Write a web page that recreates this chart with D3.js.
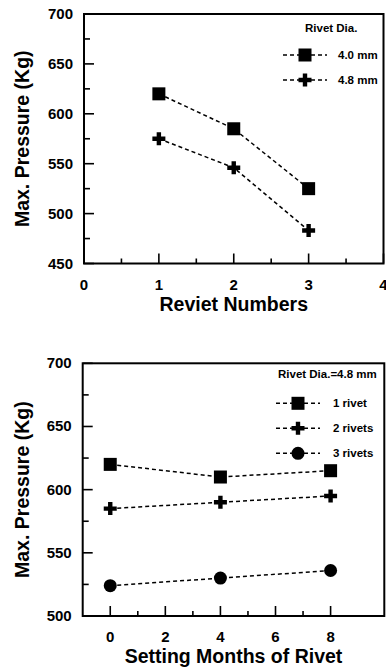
<!DOCTYPE html>
<html>
<head>
<meta charset="utf-8">
<script src="https://cdn.jsdelivr.net/npm/d3@7"></script>
<style>
  html, body { margin: 0; padding: 0; background: #fff; }
  svg { display: block; }
  text { font-family: "Liberation Sans", Arial, sans-serif; font-weight: bold; fill: #000; }
</style>
</head>
<body>
<svg id="chart" width="386" height="669"></svg>
<script>
// ---------- Data: chart 1 ----------
const rivetNumbers = [1, 2, 3];
const pressure40mm = [620, 585, 525];
const pressure48mm = [575, 546, 483];
const legend1Title = "Rivet Dia.";
const legend1Labels = ["4.0 mm", "4.8 mm"];
const xTicks1 = [0, 1, 2, 3, 4];
const yTicks1 = [450, 500, 550, 600, 650, 700];

// ---------- Data: chart 2 ----------
const settingMonths = [0, 4, 8];
const pressure1Rivet = [620, 610, 615];
const pressure2Rivets = [585, 590, 595];
const pressure3Rivets = [524, 530, 536];
const legend2Title = "Rivet Dia.=4.8 mm";
const legend2Labels = ["1 rivet", "2 rivets", "3 rivets"];
const xTicks2 = [0, 2, 4, 6, 8];
const yTicks2 = [500, 550, 600, 650, 700];

const svg = d3.select("#chart");

function markerPath(sel, type, size) {
  const h = size / 2;
  if (type === "square") {
    sel.append("rect").attr("x", -h).attr("y", -h).attr("width", size).attr("height", size).attr("fill", "#000");
  } else if (type === "plus") {
    const t = 2.2;
    sel.append("path")
      .attr("d", `M${-h},${-t}H${-t}V${-h}H${t}V${-t}H${h}V${t}H${t}V${h}H${-t}V${t}H${-h}Z`)
      .attr("fill", "#000");
  } else {
    sel.append("circle").attr("r", h).attr("fill", "#000");
  }
}

function drawChart(cfg) {
  const g = svg.append("g");
  const x = d3.scaleLinear().domain(cfg.xDomain).range([cfg.left, cfg.right]);
  const y = d3.scaleLinear().domain(cfg.yDomain).range([cfg.bottom, cfg.top]);

  // minor + major ticks (inward)
  const xMinor = cfg.xMinor, yMinor = cfg.yMinor;
  g.selectAll(".xminor").data(xMinor).join("line")
    .attr("x1", d => x(d)).attr("x2", d => x(d))
    .attr("y1", cfg.bottom).attr("y2", cfg.bottom - 5)
    .attr("stroke", "#000").attr("stroke-width", 1.6);
  g.selectAll(".xmajor").data(cfg.xTicks).join("line")
    .attr("x1", d => x(d)).attr("x2", d => x(d))
    .attr("y1", cfg.bottom).attr("y2", cfg.bottom - 10)
    .attr("stroke", "#000").attr("stroke-width", 1.6);
  g.selectAll(".yminor").data(yMinor).join("line")
    .attr("x1", cfg.left).attr("x2", cfg.left + 6)
    .attr("y1", d => y(d)).attr("y2", d => y(d))
    .attr("stroke", "#000").attr("stroke-width", 1.6);
  g.selectAll(".ymajor").data(cfg.yTicks).join("line")
    .attr("x1", cfg.left).attr("x2", cfg.left + 10)
    .attr("y1", d => y(d)).attr("y2", d => y(d))
    .attr("stroke", "#000").attr("stroke-width", 1.6);

  // frame
  g.append("rect")
    .attr("x", cfg.left).attr("y", cfg.top)
    .attr("width", cfg.right - cfg.left).attr("height", cfg.bottom - cfg.top)
    .attr("fill", "none").attr("stroke", "#000").attr("stroke-width", 2);

  // tick labels
  g.selectAll(".xlab").data(cfg.xTicks).join("text")
    .attr("x", d => x(d)).attr("y", cfg.bottom + 26)
    .attr("text-anchor", "middle").attr("font-size", 15).text(d => d);
  g.selectAll(".ylab").data(cfg.yTicks).join("text")
    .attr("x", cfg.left - 11).attr("y", d => y(d) + 5)
    .attr("text-anchor", "end").attr("font-size", 15).text(d => d);

  // axis titles
  g.append("text").attr("x", (cfg.left + cfg.right) / 2).attr("y", cfg.bottom + 47)
    .attr("text-anchor", "middle").attr("font-size", 19.5).text(cfg.xTitle);
  g.append("text")
    .attr("transform", `translate(29,${(cfg.top + cfg.bottom) / 2}) rotate(-90)`)
    .attr("text-anchor", "middle").attr("font-size", 19.5).text(cfg.yTitle);

  // series
  const line = d3.line().x(d => x(d[0])).y(d => y(d[1]));
  cfg.series.forEach(s => {
    const pts = cfg.xValues.map((xv, i) => [xv, s.values[i]]);
    g.append("path").attr("d", line(pts)).attr("fill", "none")
      .attr("stroke", "#000").attr("stroke-width", 1.5).attr("stroke-dasharray", "4,3");
    pts.forEach(p => {
      const m = g.append("g").attr("transform", `translate(${x(p[0])},${y(p[1])})`);
      markerPath(m, s.marker, 13);
    });
  });

  // legend
  g.append("text").attr("x", cfg.legend.titleX).attr("y", cfg.legend.titleY)
    .attr("text-anchor", "start").attr("font-size", 11.5).text(cfg.legend.title);
  cfg.series.forEach((s, i) => {
    const ly = cfg.legend.rowY0 + i * cfg.legend.rowStep;
    g.append("line").attr("x1", cfg.legend.lineX1).attr("x2", cfg.legend.lineX2)
      .attr("y1", ly).attr("y2", ly)
      .attr("stroke", "#000").attr("stroke-width", 1.5).attr("stroke-dasharray", "4,3");
    const m = g.append("g").attr("transform", `translate(${(cfg.legend.lineX1 + cfg.legend.lineX2) / 2},${ly})`);
    markerPath(m, s.marker, 13);
    g.append("text").attr("x", cfg.legend.textX).attr("y", ly + 4)
      .attr("font-size", 11.5).text(s.label);
  });
}

drawChart({
  left: 84, right: 383.5, top: 14, bottom: 263.5,
  xDomain: [0, 4], yDomain: [450, 700],
  xTicks: xTicks1, yTicks: yTicks1,
  xMinor: [0.5, 1.5, 2.5, 3.5], yMinor: [475, 525, 575, 625, 675],
  xTitle: "Reviet Numbers", yTitle: "Max. Pressure (Kg)",
  xValues: rivetNumbers,
  series: [
    { label: legend1Labels[0], values: pressure40mm, marker: "square" },
    { label: legend1Labels[1], values: pressure48mm, marker: "plus" }
  ],
  legend: { title: legend1Title, titleX: 305, titleY: 32, rowY0: 55, rowStep: 25,
            lineX1: 283, lineX2: 327, textX: 338 }
});

drawChart({
  left: 82.7, right: 384.3, top: 363.3, bottom: 616,
  xDomain: [-1, 9.95], yDomain: [500, 700],
  xTicks: xTicks2, yTicks: yTicks2,
  xMinor: [1, 3, 5, 7], yMinor: [525, 575, 625, 675],
  xTitle: "Setting Months of Rivet", yTitle: "Max. Pressure (Kg)",
  xValues: settingMonths,
  series: [
    { label: legend2Labels[0], values: pressure1Rivet, marker: "square" },
    { label: legend2Labels[1], values: pressure2Rivets, marker: "plus" },
    { label: legend2Labels[2], values: pressure3Rivets, marker: "circle" }
  ],
  legend: { title: legend2Title, titleX: 278, titleY: 378, rowY0: 403.3, rowStep: 25,
            lineX1: 276, lineX2: 320, textX: 333 }
});
</script>
</body>
</html>
